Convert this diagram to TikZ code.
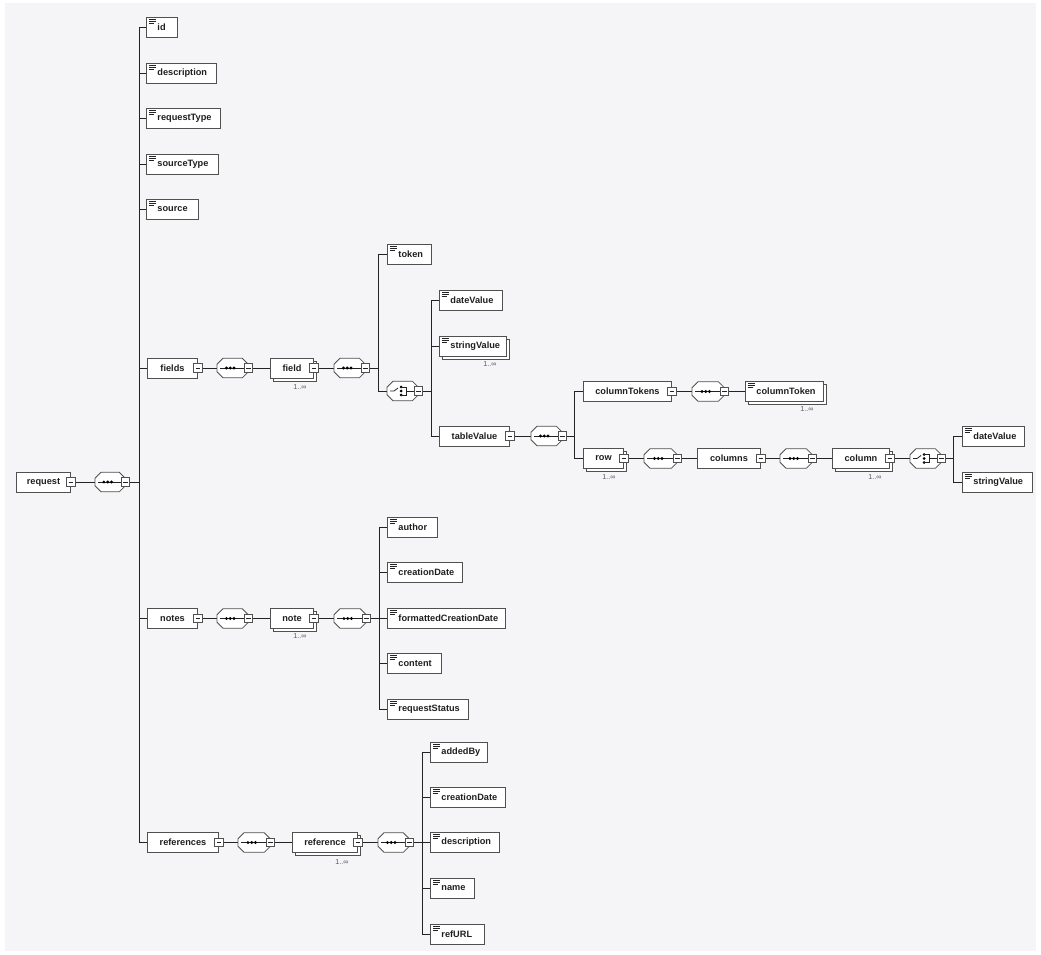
\documentclass[tikz,border=0pt]{standalone}
\usepackage{fontspec}
\setmainfont{Liberation Sans}
\usetikzlibrary{shadows}
\definecolor{bg}{RGB}{245,245,248}
\definecolor{ln}{RGB}{35,35,35}
\definecolor{bx}{RGB}{80,80,80}
\newcommand\minusb[1]{%
  \draw[draw=bx,fill=white,line width=0.75pt] ([shift={(-4.3pt,-4.3pt)}]#1.east) rectangle ([shift={(4.3pt,4.3pt)}]#1.east);
  \draw[ln,line width=0.75pt] ([xshift=-2.4pt]#1.east) -- ([xshift=2.4pt]#1.east);}
\newcommand\compshape[1]{%
  \draw[draw=bx,fill=white,line width=0.85pt] ([xshift=6pt]#1.north west) -- ([xshift=-6pt]#1.north east) -- ([yshift=-6pt]#1.north east) -- ([yshift=6pt]#1.south east) -- ([xshift=-6pt]#1.south east) -- ([xshift=6pt]#1.south west) -- ([yshift=6pt]#1.south west) -- ([yshift=-6pt]#1.north west) -- cycle;}
\newcommand\seqnode[1]{%
  \compshape{#1}
  \draw[ln,line width=0.8pt] ([xshift=3pt]#1.west) -- (#1.east);
  \foreach \d in {-6.3,-2.5,1.3} \fill[black] ([xshift=\d pt]#1.center) circle (1.6pt);
  \minusb{#1}}
\newcommand\choicenode[1]{%
  \compshape{#1}
  \draw[ln,line width=0.8pt] ([xshift=3pt]#1.west) -- ([xshift=7pt]#1.west) -- ([shift={(11pt,3pt)}]#1.west);
  \foreach \d in {-4,0,4} \fill[black] ([shift={(14pt,\d pt)}]#1.west) circle (1.5pt);
  \draw[ln,line width=0.8pt] ([shift={(14pt,4pt)}]#1.west) -- ([shift={(19pt,4pt)}]#1.west) -- ([shift={(19pt,-4pt)}]#1.west) -- ([shift={(14pt,-4pt)}]#1.west);
  \draw[ln,line width=0.8pt] ([xshift=19pt]#1.west) -- (#1.east);
  \minusb{#1}}
\tikzset{
  lab/.style={font=\fontsize{9.2}{11}\selectfont\bfseries, text=black!88},
  box/.style={lab, draw=bx, line width=0.95pt, fill=white, minimum height=20pt, inner sep=0pt, anchor=west},
  leaf/.style={box, text width=#1, align=left,
    path picture={\draw[ln,line width=0.75pt]
      ([shift={(2.5pt,-2pt)}]path picture bounding box.north west) -- ++(7pt,0pt)
      ([shift={(2.5pt,-4pt)}]path picture bounding box.north west) -- ++(7pt,0pt)
      ([shift={(2.5pt,-6pt)}]path picture bounding box.north west) -- ++(5pt,0pt);}},
  cplx/.style={box, minimum width=#1},
  multi/.style={copy shadow={shadow xshift=3pt, shadow yshift=-3pt, draw=bx, fill=white, line width=0.95pt}},
  comp/.style={rectangle, minimum width=#1, minimum height=19pt, inner sep=0pt, anchor=west},
  mult/.style={font=\fontsize{7.2}{8}\selectfont, text=black!65, inner sep=0pt},
  conn/.style={draw=ln, line width=0.8pt},
}
\begin{document}
\begin{tikzpicture}[x=1pt,y=-1pt]
\useasboundingbox (0,0) rectangle (1041,955);
\fill[white] (0,0) rectangle (1041,955);
\fill[bg] (5,3) rectangle (1036,951);

% ---- nodes ----
\node[cplx=54pt] (request) at (16,482) {request};
\node[comp=30pt] (sR) at (95,482) {};

\node[leaf=31pt] (id) at (146,27.5) {\hspace*{11pt}id};
\node[leaf=70pt] (description) at (146,73) {\hspace*{11pt}description};
\node[leaf=74pt] (requestType) at (146,118.5) {\hspace*{11pt}requestType};
\node[leaf=72pt] (sourceType) at (146,164) {\hspace*{11pt}sourceType};
\node[leaf=52pt] (source) at (146,209.5) {\hspace*{11pt}source};

\node[cplx=50pt] (fields) at (147,368) {fields};
\node[comp=31pt] (sF) at (217,368) {};
\node[cplx=43pt,multi] (field) at (270,368) {field};
\node[mult] (mField) at (300,387) {1..∞};
\node[comp=31pt] (sF2) at (334,368) {};
\node[leaf=44pt] (token) at (387,254.5) {\hspace*{11pt}token};
\node[comp=31pt] (chF) at (387,391) {};
\node[leaf=63pt] (dv1) at (439,300.5) {\hspace*{11pt}dateValue};
\node[leaf=67pt,multi] (sv1) at (439,346.5) {\hspace*{11pt}stringValue};
\node[mult] (mSv1) at (490,364) {1..∞};
\node[cplx=70pt] (tableValue) at (439,436) {tableValue};
\node[comp=31pt] (sT) at (531,436) {};
\node[cplx=88pt] (columnTokens) at (583,391.5) {columnTokens};
\node[comp=32pt] (sCT) at (692,391.5) {};
\node[leaf=78pt,multi] (columnToken) at (745,391.5) {\hspace*{11pt}columnToken};
\node[mult] (mCT) at (807,409) {1..∞};
\node[cplx=40pt,multi] (row) at (583,458.5) {row};
\node[mult] (mRow) at (609,477) {1..∞};
\node[comp=33pt] (sRow) at (644,458.5) {};
\node[cplx=63pt] (columns) at (697,458.5) {columns};
\node[comp=32pt] (sCols) at (780,458.5) {};
\node[cplx=57pt,multi] (column) at (832,458.5) {column};
\node[mult] (mCol) at (875,477) {1..∞};
\node[comp=31pt] (chC) at (910,458.5) {};
\node[leaf=62pt] (dv2) at (962,436.5) {\hspace*{11pt}dateValue};
\node[leaf=70pt] (sv2) at (962,482.5) {\hspace*{11pt}stringValue};

\node[cplx=50pt] (notes) at (147,618.5) {notes};
\node[comp=31pt] (sN) at (217,618.5) {};
\node[cplx=43pt,multi] (note) at (270,618.5) {note};
\node[mult] (mNote) at (300,636) {1..∞};
\node[comp=32pt] (sN2) at (334,618.5) {};
\node[leaf=50pt] (author) at (387,527.5) {\hspace*{11pt}author};
\node[leaf=75pt] (cdate) at (387,572.5) {\hspace*{11pt}creationDate};
\node[leaf=118pt] (fcdate) at (387,618) {\hspace*{11pt}formattedCreationDate};
\node[leaf=54pt] (content) at (387,663.5) {\hspace*{11pt}content};
\node[leaf=81pt] (requestStatus) at (387,709) {\hspace*{11pt}requestStatus};

\node[cplx=71pt] (references) at (147,842.5) {references};
\node[comp=32pt] (sRf) at (238,842.5) {};
\node[cplx=65pt,multi] (reference) at (292,842.5) {reference};
\node[mult] (mRef) at (342,862) {1..∞};
\node[comp=31pt] (sRf2) at (378,842.5) {};
\node[leaf=57pt] (addedBy) at (430,752) {\hspace*{11pt}addedBy};
\node[leaf=75pt] (cdate2) at (430,797.5) {\hspace*{11pt}creationDate};
\node[leaf=69pt] (desc2) at (430,842.5) {\hspace*{11pt}description};
\node[leaf=44pt] (name) at (430,888.5) {\hspace*{11pt}name};
\node[leaf=54pt] (refURL) at (430,934.5) {\hspace*{11pt}refURL};

% ---- connectors ----
\draw[conn] (request.east) -- (sR.west);
\draw[conn] (sR.east) -- ++(14,0) coordinate (tR);
\foreach \c in {id,description,requestType,sourceType,source,fields,notes,references}
  \draw[conn] (tR) |- (\c.west);

\draw[conn] (fields.east) -- (sF.west);
\draw[conn] (sF.east) -- (field.west);
\draw[conn] (field.east) -- (sF2.west);
\draw[conn] (sF2.east) -- ++(13,0) coordinate (tF);
\draw[conn] (tF) |- (token.west);
\draw[conn] (tF) |- (chF.west);
\draw[conn] (chF.east) -- ++(13,0) coordinate (tC);
\foreach \c in {dv1,sv1,tableValue} \draw[conn] (tC) |- (\c.west);
\draw[conn] (tableValue.east) -- (sT.west);
\draw[conn] (sT.east) -- ++(12,0) coordinate (tT);
\draw[conn] (tT) |- (columnTokens.west);
\draw[conn] (tT) |- (row.west);
\draw[conn] (columnTokens.east) -- (sCT.west);
\draw[conn] (sCT.east) -- (columnToken.west);
\draw[conn] (row.east) -- (sRow.west);
\draw[conn] (sRow.east) -- (columns.west);
\draw[conn] (columns.east) -- (sCols.west);
\draw[conn] (sCols.east) -- (column.west);
\draw[conn] (column.east) -- (chC.west);
\draw[conn] (chC.east) -- ++(12,0) coordinate (tCC);
\draw[conn] (tCC) |- (dv2.west);
\draw[conn] (tCC) |- (sv2.west);

\draw[conn] (notes.east) -- (sN.west);
\draw[conn] (sN.east) -- (note.west);
\draw[conn] (note.east) -- (sN2.west);
\draw[conn] (sN2.east) -- ++(13,0) coordinate (tN);
\foreach \c in {author,cdate,fcdate,content,requestStatus} \draw[conn] (tN) |- (\c.west);

\draw[conn] (references.east) -- (sRf.west);
\draw[conn] (sRf.east) -- (reference.west);
\draw[conn] (reference.east) -- (sRf2.west);
\draw[conn] (sRf2.east) -- ++(13,0) coordinate (tRf);
\foreach \c in {addedBy,cdate2,desc2,name,refURL} \draw[conn] (tRf) |- (\c.west);

% ---- compositors and expand boxes ----
\foreach \s in {sR,sF,sF2,sT,sCT,sRow,sCols,sN,sN2,sRf,sRf2} {\seqnode{\s}}
\choicenode{chF}
\choicenode{chC}
\foreach \e in {request,fields,field,tableValue,columnTokens,row,columns,column,notes,note,references,reference} {\minusb{\e}}
\end{tikzpicture}
\end{document}
